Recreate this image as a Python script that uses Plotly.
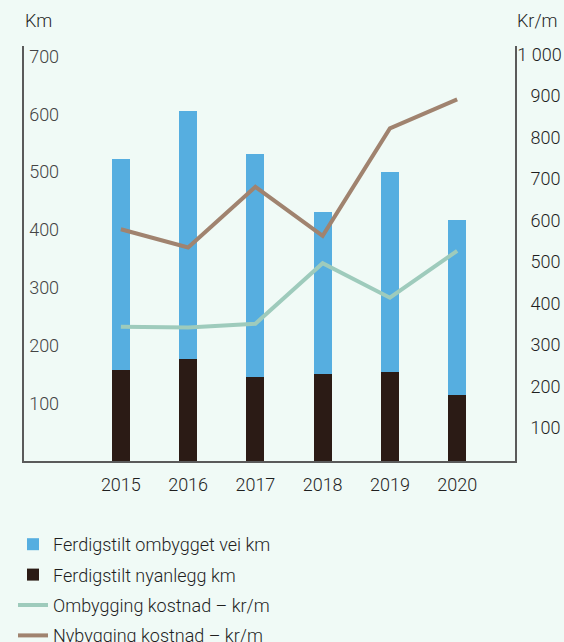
import plotly.graph_objects as go

years = ["2015", "2016", "2017", "2018", "2019", "2020"]
ombygget_km = [365, 429, 386, 281, 346, 303]
nyanlegg_km = [157, 176, 145, 150, 154, 114]
ombygging_kr_m = [344, 342, 351, 497, 414, 527]
nybygging_kr_m = [579, 535, 681, 563, 822, 892]

left_ticks = [100, 200, 300, 400, 500, 600, 700]
right_ticks = [100, 200, 300, 400, 500, 600, 700, 800, 900, 1000]
right_labels = ["\u00a0\u00a0\u00a0" + str(v) for v in right_ticks[:-1]] + ["1\u00a0000"]

bg = "#f0faf6"
text_col = "#1f1f1f"
axis_col = "#5a5a5a"
font_family = "Roboto"

W, H = 564, 642
ML, MR, MT, MB = 24, 49, 46, 181

fig = go.Figure()

fig.add_trace(go.Bar(
    x=years, y=nyanlegg_km, name="Ferdigstilt nyanlegg km", legendgroup="b",
    marker=dict(color="#2b1b15", line=dict(width=0)), width=0.27, legendrank=2,
))
fig.add_trace(go.Bar(
    x=years, y=ombygget_km, name="Ferdigstilt ombygget vei km", legendgroup="a",
    marker=dict(color="#56aee0", line=dict(width=0)), width=0.27, legendrank=1,
))
fig.add_trace(go.Scatter(
    x=years, y=ombygging_kr_m, name="Ombygging kostnad \u2013 kr/m", yaxis="y2",
    legendgroup="c", mode="lines", line=dict(color="#9ecbbc", width=4), legendrank=3,
))
fig.add_trace(go.Scatter(
    x=years, y=nybygging_kr_m, name="Nybygging kostnad \u2013 kr/m", yaxis="y2",
    legendgroup="d", mode="lines", line=dict(color="#a0836f", width=4), legendrank=4,
))

pw = W - ML - MR
ph = H - MT - MB

fig.update_layout(
    width=W, height=H,
    margin=dict(l=ML, r=MR, t=MT, b=MB, autoexpand=False),
    paper_bgcolor=bg, plot_bgcolor=bg,
    font=dict(family=font_family, size=18, color=text_col, weight=300),
    barmode="stack",
    showlegend=True,
    legend=dict(
        orientation="v", x=13 / W, xanchor="left", y=1 - 526 / H, yanchor="top",
        xref="container", yref="container", bgcolor="rgba(0,0,0,0)",
        font=dict(size=18), traceorder="grouped", tracegroupgap=4,
    ),
    xaxis=dict(
        type="category", range=[-1.44, 5.86], showline=True, linecolor=axis_col,
        linewidth=1.5, showgrid=False, ticks="", zeroline=False, tickangle=0,
        ticklabelstandoff=7,
    ),
    yaxis=dict(
        range=[0, 718], tickvals=left_ticks, showline=True, linecolor=axis_col,
        linewidth=1.5, showgrid=False, zeroline=False, ticks="",
        ticklabelposition="inside", ticklabelstandoff=6, ticklabeloverflow="allow",
    ),
    yaxis2=dict(
        overlaying="y", side="right", range=[20.5, 1020.5], tickvals=right_ticks,
        ticktext=right_labels, showline=True, linecolor=axis_col, linewidth=1.5,
        showgrid=False, zeroline=False, ticks="", ticklabelstandoff=-3,
    ),
    annotations=[
        dict(text="Km", x=(23 - ML) / pw, y=(H - MB - 20) / ph, xref="paper", yref="paper",
             xanchor="left", yanchor="middle", showarrow=False),
        dict(text="Kr/m", x=(515 - ML) / pw, y=(H - MB - 20) / ph, xref="paper", yref="paper",
             xanchor="left", yanchor="middle", showarrow=False),
    ],
)

fig.write_html(
    "out.html",
    config={"displayModeBar": False},
    post_script="document.body.style.margin='0';document.body.style.overflow='hidden';",
)
